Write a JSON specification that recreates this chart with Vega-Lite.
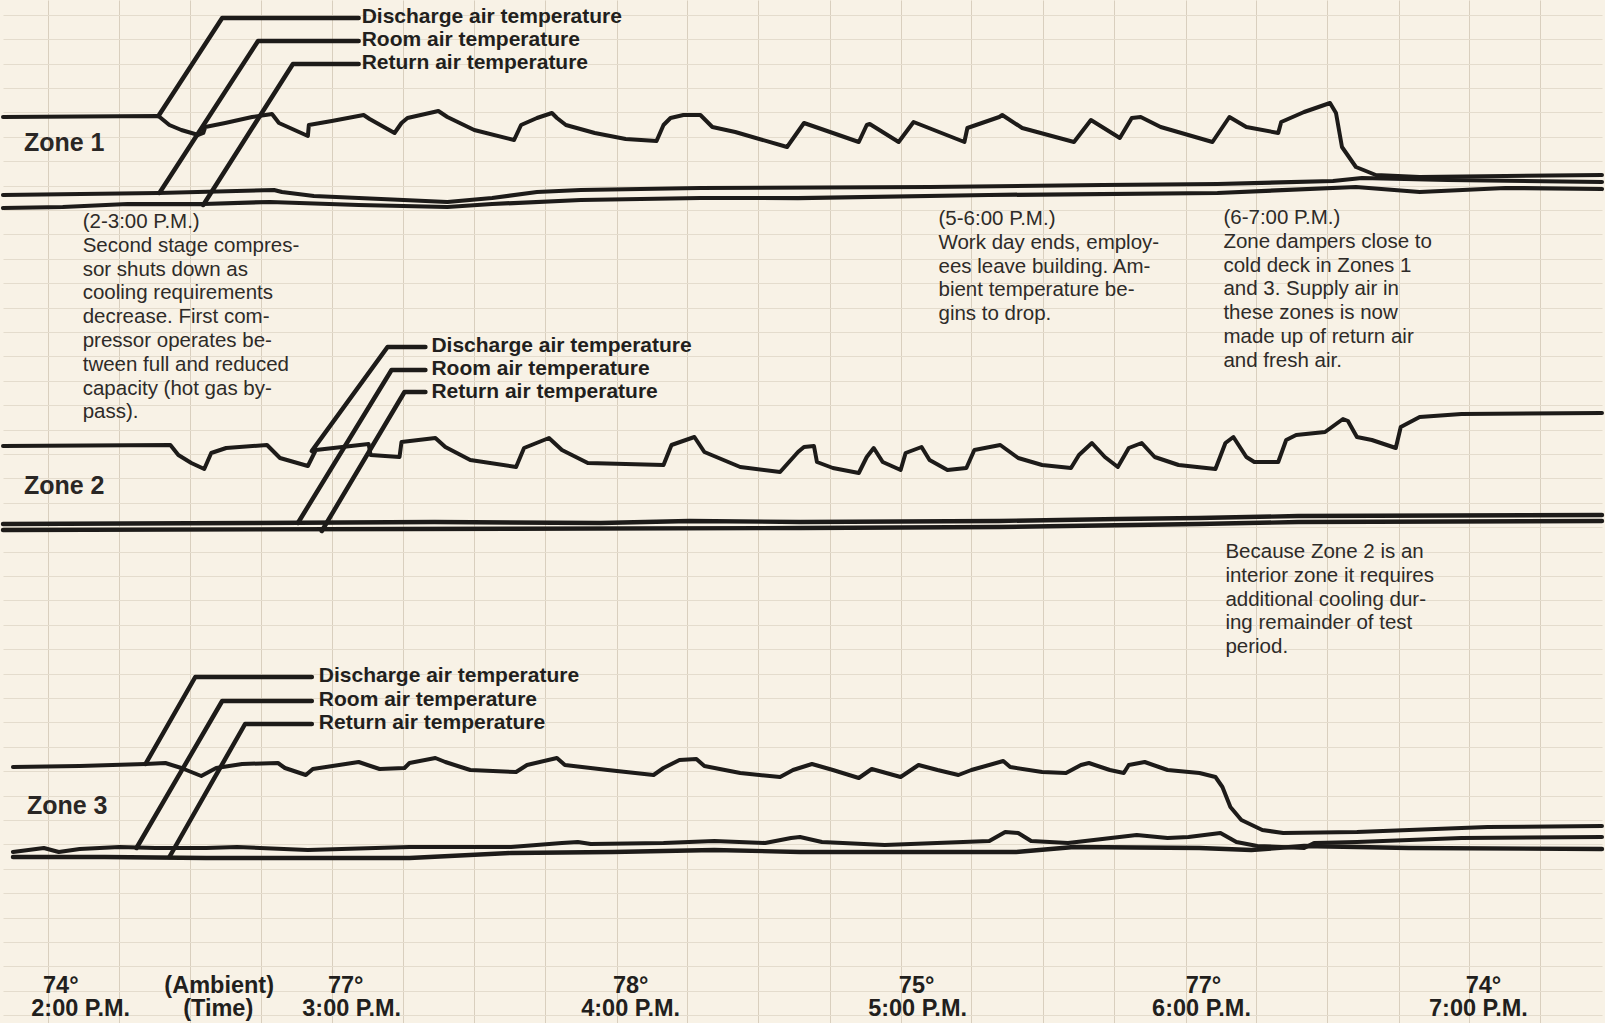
{
  "$schema": "https://vega.github.io/schema/vega-lite/v6.json",
  "width": 1605,
  "height": 1023,
  "autosize": {"type": "fit", "contains": "padding"},
  "padding": 0,
  "background": "#f8f2e6",
  "config": {"view": {"stroke": null}},
  "datasets": {
    "traces": [
      {"series": "z1_dis", "role": "dis", "x": 0, "y": 117}, {"series": "z1_dis", "role": "dis", "x": 156, "y": 116}, {"series": "z1_dis", "role": "dis", "x": 167, "y": 125}, {"series": "z1_dis", "role": "dis", "x": 179, "y": 130}, {"series": "z1_dis", "role": "dis", "x": 196, "y": 135}, {"series": "z1_dis", "role": "dis", "x": 201, "y": 133}, {"series": "z1_dis", "role": "dis", "x": 203, "y": 127}, {"series": "z1_dis", "role": "dis", "x": 223, "y": 123}, {"series": "z1_dis", "role": "dis", "x": 250, "y": 117}, {"series": "z1_dis", "role": "dis", "x": 270, "y": 114}, {"series": "z1_dis", "role": "dis", "x": 277, "y": 123}, {"series": "z1_dis", "role": "dis", "x": 306, "y": 136}, {"series": "z1_dis", "role": "dis", "x": 307, "y": 125}, {"series": "z1_dis", "role": "dis", "x": 330, "y": 121}, {"series": "z1_dis", "role": "dis", "x": 362, "y": 115}, {"series": "z1_dis", "role": "dis", "x": 368, "y": 119}, {"series": "z1_dis", "role": "dis", "x": 393, "y": 133}, {"series": "z1_dis", "role": "dis", "x": 400, "y": 123}, {"series": "z1_dis", "role": "dis", "x": 406, "y": 118}, {"series": "z1_dis", "role": "dis", "x": 437, "y": 111}, {"series": "z1_dis", "role": "dis", "x": 446, "y": 117}, {"series": "z1_dis", "role": "dis", "x": 473, "y": 130}, {"series": "z1_dis", "role": "dis", "x": 513, "y": 140}, {"series": "z1_dis", "role": "dis", "x": 520, "y": 125}, {"series": "z1_dis", "role": "dis", "x": 536, "y": 118}, {"series": "z1_dis", "role": "dis", "x": 551, "y": 113}, {"series": "z1_dis", "role": "dis", "x": 556, "y": 118}, {"series": "z1_dis", "role": "dis", "x": 565, "y": 125}, {"series": "z1_dis", "role": "dis", "x": 594, "y": 133}, {"series": "z1_dis", "role": "dis", "x": 625, "y": 139}, {"series": "z1_dis", "role": "dis", "x": 656, "y": 141}, {"series": "z1_dis", "role": "dis", "x": 663, "y": 125}, {"series": "z1_dis", "role": "dis", "x": 670, "y": 118}, {"series": "z1_dis", "role": "dis", "x": 683, "y": 115}, {"series": "z1_dis", "role": "dis", "x": 700, "y": 115}, {"series": "z1_dis", "role": "dis", "x": 712, "y": 127}, {"series": "z1_dis", "role": "dis", "x": 735, "y": 132}, {"series": "z1_dis", "role": "dis", "x": 787, "y": 147}, {"series": "z1_dis", "role": "dis", "x": 804, "y": 123}, {"series": "z1_dis", "role": "dis", "x": 833, "y": 133}, {"series": "z1_dis", "role": "dis", "x": 859, "y": 142}, {"series": "z1_dis", "role": "dis", "x": 867, "y": 125}, {"series": "z1_dis", "role": "dis", "x": 870, "y": 124}, {"series": "z1_dis", "role": "dis", "x": 899, "y": 142}, {"series": "z1_dis", "role": "dis", "x": 914, "y": 122}, {"series": "z1_dis", "role": "dis", "x": 965, "y": 142}, {"series": "z1_dis", "role": "dis", "x": 968, "y": 128}, {"series": "z1_dis", "role": "dis", "x": 1000, "y": 117}, {"series": "z1_dis", "role": "dis", "x": 1003, "y": 115}, {"series": "z1_dis", "role": "dis", "x": 1023, "y": 128}, {"series": "z1_dis", "role": "dis", "x": 1075, "y": 142}, {"series": "z1_dis", "role": "dis", "x": 1092, "y": 120}, {"series": "z1_dis", "role": "dis", "x": 1121, "y": 138}, {"series": "z1_dis", "role": "dis", "x": 1133, "y": 118}, {"series": "z1_dis", "role": "dis", "x": 1142, "y": 117}, {"series": "z1_dis", "role": "dis", "x": 1162, "y": 127}, {"series": "z1_dis", "role": "dis", "x": 1214, "y": 142}, {"series": "z1_dis", "role": "dis", "x": 1231, "y": 117}, {"series": "z1_dis", "role": "dis", "x": 1248, "y": 127}, {"series": "z1_dis", "role": "dis", "x": 1280, "y": 133}, {"series": "z1_dis", "role": "dis", "x": 1283, "y": 122}, {"series": "z1_dis", "role": "dis", "x": 1306, "y": 112}, {"series": "z1_dis", "role": "dis", "x": 1332, "y": 103}, {"series": "z1_dis", "role": "dis", "x": 1338, "y": 113}, {"series": "z1_dis", "role": "dis", "x": 1344, "y": 147}, {"series": "z1_dis", "role": "dis", "x": 1358, "y": 167}, {"series": "z1_dis", "role": "dis", "x": 1378, "y": 175}, {"series": "z1_dis", "role": "dis", "x": 1422, "y": 177}, {"series": "z1_dis", "role": "dis", "x": 1508, "y": 176}, {"series": "z1_dis", "role": "dis", "x": 1605, "y": 175},

      {"series": "z1_room", "role": "room", "x": 0, "y": 195}, {"series": "z1_room", "role": "room", "x": 156, "y": 193}, {"series": "z1_room", "role": "room", "x": 272, "y": 190}, {"series": "z1_room", "role": "room", "x": 280, "y": 192}, {"series": "z1_room", "role": "room", "x": 312, "y": 196}, {"series": "z1_room", "role": "room", "x": 402, "y": 200}, {"series": "z1_room", "role": "room", "x": 446, "y": 202}, {"series": "z1_room", "role": "room", "x": 491, "y": 198}, {"series": "z1_room", "role": "room", "x": 536, "y": 192}, {"series": "z1_room", "role": "room", "x": 580, "y": 190}, {"series": "z1_room", "role": "room", "x": 700, "y": 188}, {"series": "z1_room", "role": "room", "x": 931, "y": 187}, {"series": "z1_room", "role": "room", "x": 1104, "y": 185}, {"series": "z1_room", "role": "room", "x": 1219, "y": 184}, {"series": "z1_room", "role": "room", "x": 1335, "y": 181}, {"series": "z1_room", "role": "room", "x": 1364, "y": 178}, {"series": "z1_room", "role": "room", "x": 1450, "y": 180}, {"series": "z1_room", "role": "room", "x": 1605, "y": 182},

      {"series": "z1_ret", "role": "ret", "x": 0, "y": 208}, {"series": "z1_ret", "role": "ret", "x": 60, "y": 207}, {"series": "z1_ret", "role": "ret", "x": 125, "y": 204}, {"series": "z1_ret", "role": "ret", "x": 201, "y": 204}, {"series": "z1_ret", "role": "ret", "x": 268, "y": 202}, {"series": "z1_ret", "role": "ret", "x": 357, "y": 205}, {"series": "z1_ret", "role": "ret", "x": 446, "y": 207}, {"series": "z1_ret", "role": "ret", "x": 491, "y": 204}, {"series": "z1_ret", "role": "ret", "x": 580, "y": 200}, {"series": "z1_ret", "role": "ret", "x": 700, "y": 198}, {"series": "z1_ret", "role": "ret", "x": 798, "y": 198}, {"series": "z1_ret", "role": "ret", "x": 989, "y": 195}, {"series": "z1_ret", "role": "ret", "x": 1219, "y": 193}, {"series": "z1_ret", "role": "ret", "x": 1358, "y": 187}, {"series": "z1_ret", "role": "ret", "x": 1422, "y": 192}, {"series": "z1_ret", "role": "ret", "x": 1508, "y": 188}, {"series": "z1_ret", "role": "ret", "x": 1605, "y": 189},

      {"series": "z2_dis", "role": "dis", "x": 0, "y": 446}, {"series": "z2_dis", "role": "dis", "x": 168, "y": 445}, {"series": "z2_dis", "role": "dis", "x": 176, "y": 455}, {"series": "z2_dis", "role": "dis", "x": 189, "y": 463}, {"series": "z2_dis", "role": "dis", "x": 202, "y": 469}, {"series": "z2_dis", "role": "dis", "x": 209, "y": 453}, {"series": "z2_dis", "role": "dis", "x": 224, "y": 448}, {"series": "z2_dis", "role": "dis", "x": 265, "y": 445}, {"series": "z2_dis", "role": "dis", "x": 278, "y": 458}, {"series": "z2_dis", "role": "dis", "x": 306, "y": 466}, {"series": "z2_dis", "role": "dis", "x": 314, "y": 450}, {"series": "z2_dis", "role": "dis", "x": 367, "y": 444}, {"series": "z2_dis", "role": "dis", "x": 369, "y": 455}, {"series": "z2_dis", "role": "dis", "x": 398, "y": 457}, {"series": "z2_dis", "role": "dis", "x": 400, "y": 442}, {"series": "z2_dis", "role": "dis", "x": 434, "y": 438}, {"series": "z2_dis", "role": "dis", "x": 444, "y": 447}, {"series": "z2_dis", "role": "dis", "x": 469, "y": 460}, {"series": "z2_dis", "role": "dis", "x": 515, "y": 467}, {"series": "z2_dis", "role": "dis", "x": 523, "y": 448}, {"series": "z2_dis", "role": "dis", "x": 548, "y": 438}, {"series": "z2_dis", "role": "dis", "x": 561, "y": 450}, {"series": "z2_dis", "role": "dis", "x": 587, "y": 463}, {"series": "z2_dis", "role": "dis", "x": 663, "y": 465}, {"series": "z2_dis", "role": "dis", "x": 671, "y": 445}, {"series": "z2_dis", "role": "dis", "x": 694, "y": 437}, {"series": "z2_dis", "role": "dis", "x": 704, "y": 452}, {"series": "z2_dis", "role": "dis", "x": 740, "y": 467}, {"series": "z2_dis", "role": "dis", "x": 780, "y": 472}, {"series": "z2_dis", "role": "dis", "x": 798, "y": 452}, {"series": "z2_dis", "role": "dis", "x": 804, "y": 447}, {"series": "z2_dis", "role": "dis", "x": 814, "y": 446}, {"series": "z2_dis", "role": "dis", "x": 817, "y": 462}, {"series": "z2_dis", "role": "dis", "x": 833, "y": 468}, {"series": "z2_dis", "role": "dis", "x": 859, "y": 473}, {"series": "z2_dis", "role": "dis", "x": 867, "y": 457}, {"series": "z2_dis", "role": "dis", "x": 874, "y": 448}, {"series": "z2_dis", "role": "dis", "x": 883, "y": 462}, {"series": "z2_dis", "role": "dis", "x": 901, "y": 470}, {"series": "z2_dis", "role": "dis", "x": 906, "y": 453}, {"series": "z2_dis", "role": "dis", "x": 922, "y": 447}, {"series": "z2_dis", "role": "dis", "x": 930, "y": 460}, {"series": "z2_dis", "role": "dis", "x": 948, "y": 470}, {"series": "z2_dis", "role": "dis", "x": 967, "y": 468}, {"series": "z2_dis", "role": "dis", "x": 975, "y": 450}, {"series": "z2_dis", "role": "dis", "x": 1001, "y": 445}, {"series": "z2_dis", "role": "dis", "x": 1019, "y": 458}, {"series": "z2_dis", "role": "dis", "x": 1043, "y": 465}, {"series": "z2_dis", "role": "dis", "x": 1072, "y": 468}, {"series": "z2_dis", "role": "dis", "x": 1080, "y": 455}, {"series": "z2_dis", "role": "dis", "x": 1093, "y": 443}, {"series": "z2_dis", "role": "dis", "x": 1106, "y": 457}, {"series": "z2_dis", "role": "dis", "x": 1119, "y": 467}, {"series": "z2_dis", "role": "dis", "x": 1130, "y": 448}, {"series": "z2_dis", "role": "dis", "x": 1143, "y": 443}, {"series": "z2_dis", "role": "dis", "x": 1156, "y": 457}, {"series": "z2_dis", "role": "dis", "x": 1180, "y": 465}, {"series": "z2_dis", "role": "dis", "x": 1217, "y": 469}, {"series": "z2_dis", "role": "dis", "x": 1227, "y": 443}, {"series": "z2_dis", "role": "dis", "x": 1235, "y": 437}, {"series": "z2_dis", "role": "dis", "x": 1248, "y": 457}, {"series": "z2_dis", "role": "dis", "x": 1256, "y": 462}, {"series": "z2_dis", "role": "dis", "x": 1280, "y": 462}, {"series": "z2_dis", "role": "dis", "x": 1288, "y": 440}, {"series": "z2_dis", "role": "dis", "x": 1298, "y": 435}, {"series": "z2_dis", "role": "dis", "x": 1327, "y": 432}, {"series": "z2_dis", "role": "dis", "x": 1345, "y": 419}, {"series": "z2_dis", "role": "dis", "x": 1350, "y": 421}, {"series": "z2_dis", "role": "dis", "x": 1359, "y": 437}, {"series": "z2_dis", "role": "dis", "x": 1374, "y": 440}, {"series": "z2_dis", "role": "dis", "x": 1398, "y": 448}, {"series": "z2_dis", "role": "dis", "x": 1403, "y": 427}, {"series": "z2_dis", "role": "dis", "x": 1422, "y": 417}, {"series": "z2_dis", "role": "dis", "x": 1464, "y": 414}, {"series": "z2_dis", "role": "dis", "x": 1605, "y": 413},

      {"series": "z2_room", "role": "band", "x": 0, "y": 524}, {"series": "z2_room", "role": "band", "x": 250, "y": 523}, {"series": "z2_room", "role": "band", "x": 433, "y": 522}, {"series": "z2_room", "role": "band", "x": 600, "y": 523}, {"series": "z2_room", "role": "band", "x": 689, "y": 521}, {"series": "z2_room", "role": "band", "x": 800, "y": 522}, {"series": "z2_room", "role": "band", "x": 1000, "y": 521}, {"series": "z2_room", "role": "band", "x": 1120, "y": 519}, {"series": "z2_room", "role": "band", "x": 1200, "y": 518}, {"series": "z2_room", "role": "band", "x": 1300, "y": 516}, {"series": "z2_room", "role": "band", "x": 1605, "y": 515},
      {"series": "z2_ret", "role": "band", "x": 0, "y": 530}, {"series": "z2_ret", "role": "band", "x": 400, "y": 529}, {"series": "z2_ret", "role": "band", "x": 800, "y": 528}, {"series": "z2_ret", "role": "band", "x": 1000, "y": 527}, {"series": "z2_ret", "role": "band", "x": 1200, "y": 524}, {"series": "z2_ret", "role": "band", "x": 1300, "y": 522}, {"series": "z2_ret", "role": "band", "x": 1605, "y": 521},

      {"series": "z3_dis", "role": "dis", "x": 10, "y": 767}, {"series": "z3_dis", "role": "dis", "x": 77, "y": 766}, {"series": "z3_dis", "role": "dis", "x": 143, "y": 764}, {"series": "z3_dis", "role": "dis", "x": 163, "y": 763}, {"series": "z3_dis", "role": "dis", "x": 179, "y": 768}, {"series": "z3_dis", "role": "dis", "x": 199, "y": 776}, {"series": "z3_dis", "role": "dis", "x": 214, "y": 768}, {"series": "z3_dis", "role": "dis", "x": 240, "y": 764}, {"series": "z3_dis", "role": "dis", "x": 276, "y": 763}, {"series": "z3_dis", "role": "dis", "x": 283, "y": 768}, {"series": "z3_dis", "role": "dis", "x": 304, "y": 775}, {"series": "z3_dis", "role": "dis", "x": 311, "y": 769}, {"series": "z3_dis", "role": "dis", "x": 357, "y": 762}, {"series": "z3_dis", "role": "dis", "x": 378, "y": 769}, {"series": "z3_dis", "role": "dis", "x": 403, "y": 768}, {"series": "z3_dis", "role": "dis", "x": 408, "y": 763}, {"series": "z3_dis", "role": "dis", "x": 434, "y": 758}, {"series": "z3_dis", "role": "dis", "x": 444, "y": 762}, {"series": "z3_dis", "role": "dis", "x": 469, "y": 770}, {"series": "z3_dis", "role": "dis", "x": 515, "y": 772}, {"series": "z3_dis", "role": "dis", "x": 526, "y": 765}, {"series": "z3_dis", "role": "dis", "x": 556, "y": 758}, {"series": "z3_dis", "role": "dis", "x": 564, "y": 765}, {"series": "z3_dis", "role": "dis", "x": 607, "y": 770}, {"series": "z3_dis", "role": "dis", "x": 653, "y": 775}, {"series": "z3_dis", "role": "dis", "x": 663, "y": 768}, {"series": "z3_dis", "role": "dis", "x": 679, "y": 760}, {"series": "z3_dis", "role": "dis", "x": 696, "y": 759}, {"series": "z3_dis", "role": "dis", "x": 704, "y": 766}, {"series": "z3_dis", "role": "dis", "x": 740, "y": 773}, {"series": "z3_dis", "role": "dis", "x": 780, "y": 777}, {"series": "z3_dis", "role": "dis", "x": 793, "y": 770}, {"series": "z3_dis", "role": "dis", "x": 812, "y": 764}, {"series": "z3_dis", "role": "dis", "x": 833, "y": 770}, {"series": "z3_dis", "role": "dis", "x": 859, "y": 778}, {"series": "z3_dis", "role": "dis", "x": 872, "y": 769}, {"series": "z3_dis", "role": "dis", "x": 901, "y": 777}, {"series": "z3_dis", "role": "dis", "x": 919, "y": 765}, {"series": "z3_dis", "role": "dis", "x": 938, "y": 770}, {"series": "z3_dis", "role": "dis", "x": 959, "y": 775}, {"series": "z3_dis", "role": "dis", "x": 972, "y": 770}, {"series": "z3_dis", "role": "dis", "x": 1004, "y": 761}, {"series": "z3_dis", "role": "dis", "x": 1011, "y": 767}, {"series": "z3_dis", "role": "dis", "x": 1043, "y": 772}, {"series": "z3_dis", "role": "dis", "x": 1067, "y": 773}, {"series": "z3_dis", "role": "dis", "x": 1082, "y": 765}, {"series": "z3_dis", "role": "dis", "x": 1090, "y": 763}, {"series": "z3_dis", "role": "dis", "x": 1111, "y": 770}, {"series": "z3_dis", "role": "dis", "x": 1125, "y": 773}, {"series": "z3_dis", "role": "dis", "x": 1130, "y": 765}, {"series": "z3_dis", "role": "dis", "x": 1146, "y": 762}, {"series": "z3_dis", "role": "dis", "x": 1169, "y": 770}, {"series": "z3_dis", "role": "dis", "x": 1201, "y": 773}, {"series": "z3_dis", "role": "dis", "x": 1217, "y": 777}, {"series": "z3_dis", "role": "dis", "x": 1224, "y": 787}, {"series": "z3_dis", "role": "dis", "x": 1232, "y": 807}, {"series": "z3_dis", "role": "dis", "x": 1243, "y": 820}, {"series": "z3_dis", "role": "dis", "x": 1264, "y": 830}, {"series": "z3_dis", "role": "dis", "x": 1285, "y": 833}, {"series": "z3_dis", "role": "dis", "x": 1359, "y": 832}, {"series": "z3_dis", "role": "dis", "x": 1464, "y": 828}, {"series": "z3_dis", "role": "dis", "x": 1490, "y": 827}, {"series": "z3_dis", "role": "dis", "x": 1605, "y": 826},

      {"series": "z3_room", "role": "room", "x": 10, "y": 852}, {"series": "z3_room", "role": "room", "x": 41, "y": 848}, {"series": "z3_room", "role": "room", "x": 56, "y": 852}, {"series": "z3_room", "role": "room", "x": 77, "y": 849}, {"series": "z3_room", "role": "room", "x": 117, "y": 847}, {"series": "z3_room", "role": "room", "x": 153, "y": 848}, {"series": "z3_room", "role": "room", "x": 204, "y": 848}, {"series": "z3_room", "role": "room", "x": 235, "y": 847}, {"series": "z3_room", "role": "room", "x": 306, "y": 850}, {"series": "z3_room", "role": "room", "x": 408, "y": 847}, {"series": "z3_room", "role": "room", "x": 510, "y": 847}, {"series": "z3_room", "role": "room", "x": 561, "y": 843}, {"series": "z3_room", "role": "room", "x": 577, "y": 842}, {"series": "z3_room", "role": "room", "x": 590, "y": 844}, {"series": "z3_room", "role": "room", "x": 663, "y": 843}, {"series": "z3_room", "role": "room", "x": 714, "y": 841}, {"series": "z3_room", "role": "room", "x": 765, "y": 843}, {"series": "z3_room", "role": "room", "x": 791, "y": 838}, {"series": "z3_room", "role": "room", "x": 800, "y": 837}, {"series": "z3_room", "role": "room", "x": 822, "y": 842}, {"series": "z3_room", "role": "room", "x": 885, "y": 845}, {"series": "z3_room", "role": "room", "x": 990, "y": 841}, {"series": "z3_room", "role": "room", "x": 1006, "y": 832}, {"series": "z3_room", "role": "room", "x": 1019, "y": 833}, {"series": "z3_room", "role": "room", "x": 1032, "y": 841}, {"series": "z3_room", "role": "room", "x": 1069, "y": 843}, {"series": "z3_room", "role": "room", "x": 1138, "y": 835}, {"series": "z3_room", "role": "room", "x": 1169, "y": 838}, {"series": "z3_room", "role": "room", "x": 1190, "y": 837}, {"series": "z3_room", "role": "room", "x": 1222, "y": 833}, {"series": "z3_room", "role": "room", "x": 1238, "y": 842}, {"series": "z3_room", "role": "room", "x": 1259, "y": 846}, {"series": "z3_room", "role": "room", "x": 1306, "y": 848}, {"series": "z3_room", "role": "room", "x": 1316, "y": 843}, {"series": "z3_room", "role": "room", "x": 1359, "y": 842}, {"series": "z3_room", "role": "room", "x": 1464, "y": 838}, {"series": "z3_room", "role": "room", "x": 1605, "y": 837},

      {"series": "z3_ret", "role": "band", "x": 10, "y": 857}, {"series": "z3_ret", "role": "band", "x": 102, "y": 857}, {"series": "z3_ret", "role": "band", "x": 204, "y": 858}, {"series": "z3_ret", "role": "band", "x": 408, "y": 858}, {"series": "z3_ret", "role": "band", "x": 510, "y": 853}, {"series": "z3_ret", "role": "band", "x": 612, "y": 852}, {"series": "z3_ret", "role": "band", "x": 714, "y": 850}, {"series": "z3_ret", "role": "band", "x": 800, "y": 852}, {"series": "z3_ret", "role": "band", "x": 938, "y": 852}, {"series": "z3_ret", "role": "band", "x": 1017, "y": 852}, {"series": "z3_ret", "role": "band", "x": 1075, "y": 847}, {"series": "z3_ret", "role": "band", "x": 1201, "y": 848}, {"series": "z3_ret", "role": "band", "x": 1253, "y": 850}, {"series": "z3_ret", "role": "band", "x": 1306, "y": 846}, {"series": "z3_ret", "role": "band", "x": 1411, "y": 848}, {"series": "z3_ret", "role": "band", "x": 1605, "y": 849},

      {"series": "l1_dis", "role": "leader", "x": 156, "y": 116}, {"series": "l1_dis", "role": "leader", "x": 220, "y": 18}, {"series": "l1_dis", "role": "leader", "x": 357, "y": 18},
      {"series": "l1_room", "role": "leader", "x": 157, "y": 193}, {"series": "l1_room", "role": "leader", "x": 256, "y": 41}, {"series": "l1_room", "role": "leader", "x": 357, "y": 41},
      {"series": "l1_ret", "role": "leader", "x": 201, "y": 205}, {"series": "l1_ret", "role": "leader", "x": 291, "y": 64}, {"series": "l1_ret", "role": "leader", "x": 357, "y": 64},
      {"series": "l2_dis", "role": "leader", "x": 310, "y": 451}, {"series": "l2_dis", "role": "leader", "x": 386, "y": 347}, {"series": "l2_dis", "role": "leader", "x": 424, "y": 347},
      {"series": "l2_room", "role": "leader", "x": 296, "y": 523}, {"series": "l2_room", "role": "leader", "x": 390, "y": 370}, {"series": "l2_room", "role": "leader", "x": 424, "y": 370},
      {"series": "l2_ret", "role": "leader", "x": 320, "y": 531}, {"series": "l2_ret", "role": "leader", "x": 403, "y": 392}, {"series": "l2_ret", "role": "leader", "x": 424, "y": 392},
      {"series": "l3_dis", "role": "leader", "x": 143, "y": 764}, {"series": "l3_dis", "role": "leader", "x": 193, "y": 677}, {"series": "l3_dis", "role": "leader", "x": 310, "y": 677},
      {"series": "l3_room", "role": "leader", "x": 134, "y": 848}, {"series": "l3_room", "role": "leader", "x": 220, "y": 701}, {"series": "l3_room", "role": "leader", "x": 310, "y": 701},
      {"series": "l3_ret", "role": "leader", "x": 167, "y": 857}, {"series": "l3_ret", "role": "leader", "x": 243, "y": 724}, {"series": "l3_ret", "role": "leader", "x": 310, "y": 724}
    ],
    "labels": [
      {"kind": "lead", "x": 360, "y": 17, "label": "Discharge air temperature"},
      {"kind": "lead", "x": 360, "y": 40, "label": "Room air temperature"},
      {"kind": "lead", "x": 360, "y": 63, "label": "Return air temperature"},
      {"kind": "lead", "x": 430, "y": 346, "label": "Discharge air temperature"},
      {"kind": "lead", "x": 430, "y": 369, "label": "Room air temperature"},
      {"kind": "lead", "x": 430, "y": 392, "label": "Return air temperature"},
      {"kind": "lead", "x": 317, "y": 676, "label": "Discharge air temperature"},
      {"kind": "lead", "x": 317, "y": 700, "label": "Room air temperature"},
      {"kind": "lead", "x": 317, "y": 723, "label": "Return air temperature"},
      {"kind": "zone", "x": 21, "y": 143, "label": "Zone 1"},
      {"kind": "zone", "x": 21, "y": 486, "label": "Zone 2"},
      {"kind": "zone", "x": 24, "y": 806, "label": "Zone 3"},
      {"kind": "note", "x": 80, "y": 228, "label": "(2-3:00 P.M.)\nSecond stage compres-\nsor shuts down as\ncooling requirements\ndecrease. First com-\npressor operates be-\ntween full and reduced\ncapacity (hot gas by-\npass)."},
      {"kind": "note", "x": 939, "y": 225, "label": "(5-6:00 P.M.)\nWork day ends, employ-\nees leave building. Am-\nbient temperature be-\ngins to drop."},
      {"kind": "note", "x": 1225, "y": 224, "label": "(6-7:00 P.M.)\nZone dampers close to\ncold deck in Zones 1\nand 3. Supply air in\nthese zones is now\nmade up of return air\nand fresh air."},
      {"kind": "note", "x": 1227, "y": 558, "label": "Because Zone 2 is an\ninterior zone it requires\nadditional cooling dur-\ning remainder of test\nperiod."},
      {"kind": "tick", "x": 58, "y": 986, "label": "74°"},
      {"kind": "tick", "x": 78, "y": 1009, "label": "2:00 P.M."},
      {"kind": "tick", "x": 217, "y": 986, "label": "(Ambient)"},
      {"kind": "tick", "x": 216, "y": 1009, "label": "(Time)"},
      {"kind": "tick", "x": 344, "y": 986, "label": "77°"},
      {"kind": "tick", "x": 350, "y": 1009, "label": "3:00 P.M."},
      {"kind": "tick", "x": 630, "y": 986, "label": "78°"},
      {"kind": "tick", "x": 630, "y": 1009, "label": "4:00 P.M."},
      {"kind": "tick", "x": 917, "y": 986, "label": "75°"},
      {"kind": "tick", "x": 918, "y": 1009, "label": "5:00 P.M."},
      {"kind": "tick", "x": 1205, "y": 986, "label": "77°"},
      {"kind": "tick", "x": 1203, "y": 1009, "label": "6:00 P.M."},
      {"kind": "tick", "x": 1486, "y": 986, "label": "74°"},
      {"kind": "tick", "x": 1481, "y": 1009, "label": "7:00 P.M."}
    ]
  },
  "encoding": {
    "x": {
      "field": "x", "type": "quantitative",
      "scale": {"domain": [0, 1605], "nice": false, "zero": false},
      "axis": {"values": [45, 116, 188, 259, 330, 402, 473, 544, 616, 687, 758, 830, 901, 972, 1044, 1115, 1187, 1258, 1329, 1401, 1472, 1543], "labels": false, "ticks": false, "domain": false, "title": null, "grid": true, "gridColor": "#d9cfbe", "gridWidth": 1}
    },
    "y": {
      "field": "y", "type": "quantitative",
      "scale": {"domain": [0, 1023], "nice": false, "zero": false, "reverse": true},
      "axis": {"values": [15, 39, 64, 88, 112, 137, 161, 186, 210, 234, 259, 283, 308, 332, 356, 381, 405, 430, 454, 478, 503, 527, 552, 576, 600, 625, 649, 674, 698, 722, 747, 771, 796, 820, 844, 869, 893, 918, 942, 966, 991, 1015], "labels": false, "ticks": false, "domain": false, "title": null, "grid": true, "gridColor": "#e4dccd", "gridWidth": 1}
    }
  },
  "layer": [
    {
      "data": {"name": "traces"},
      "mark": {"type": "line", "color": "#1d1b19", "strokeJoin": "round", "strokeCap": "round"},
      "encoding": {
        "detail": {"field": "series", "type": "nominal"},
        "strokeWidth": {"field": "role", "type": "nominal", "scale": {"domain": ["dis", "room", "ret", "band", "leader"], "range": [4, 4.5, 3.2, 5.8, 1.8]}, "legend": null}
      }
    },
    {
      "data": {"name": "labels"},
      "transform": [{"filter": "datum.kind === 'lead'"}],
      "mark": {"type": "text", "align": "left", "baseline": "middle", "font": "Liberation Sans", "fontWeight": "bold", "fontSize": 21, "color": "#221f1d"},
      "encoding": {"text": {"field": "label"}}
    },
    {
      "data": {"name": "labels"},
      "transform": [{"filter": "datum.kind === 'zone'"}],
      "mark": {"type": "text", "align": "left", "baseline": "middle", "font": "Liberation Sans", "fontWeight": "bold", "fontSize": 25, "color": "#2a2725"},
      "encoding": {"text": {"field": "label"}}
    },
    {
      "data": {"name": "labels"},
      "transform": [{"filter": "datum.kind === 'note'"}],
      "mark": {"type": "text", "align": "left", "baseline": "alphabetic", "font": "Liberation Sans", "fontSize": 20.5, "lineBreak": "\n", "lineHeight": 23.8, "color": "#2e2b28"},
      "encoding": {"text": {"field": "label"}}
    },
    {
      "data": {"name": "labels"},
      "transform": [{"filter": "datum.kind === 'tick'"}],
      "mark": {"type": "text", "align": "center", "baseline": "middle", "font": "Liberation Sans", "fontWeight": "bold", "fontSize": 23.5, "color": "#221f1d"},
      "encoding": {"text": {"field": "label"}}
    }
  ]
}
